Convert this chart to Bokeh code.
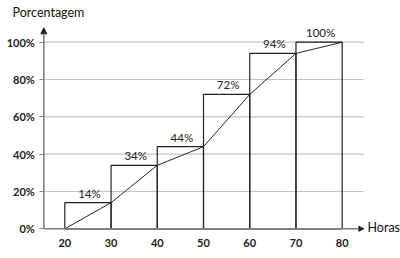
from bokeh.plotting import figure
from bokeh.models import Range1d, FixedTicker, PrintfTickFormatter, Arrow, NormalHead, Label, ColumnDataSource
from bokeh.core.properties import value
from bokeh.embed import file_html
from bokeh.resources import INLINE

# Data
class_edges = [20, 30, 40, 50, 60, 70, 80]
cum_pct = [14, 34, 44, 72, 94, 100]
pct_labels = ["14%", "34%", "44%", "72%", "94%", "100%"]
y_ticks = [0, 20, 40, 60, 80, 100]
x_ticks = [20, 30, 40, 50, 60, 70, 80]
y_title = "Porcentagem"
x_title = "Horas"

FONT = "Lato"

lefts = class_edges[:-1]
rights = class_edges[1:]
centers = [(a + b) / 2 for a, b in zip(lefts, rights)]
ogive_x = class_edges
ogive_y = [0] + cum_pct

# frame covers the whole canvas; axes placed at fixed locations inside
xr = Range1d(6.09, 92.61)
yr = Range1d(-15.92, 122.35)
X_AXIS_AT = 0
Y_AXIS_AT = 15.46
X_END = 84.67
Y_END = 107.7

p = figure(width=400, height=258, x_range=xr, y_range=yr,
           output_backend="svg", toolbar_location=None,
           min_border=0)
p.outline_line_color = None
p.background_fill_color = "white"
p.border_fill_color = "white"
p.xgrid.visible = False
p.ygrid.visible = False

# grid lines (bounded between the axis and the arrow tip)
grid_y = y_ticks[1:]
p.segment(x0=[Y_AXIS_AT] * len(grid_y), y0=grid_y, x1=[X_END] * len(grid_y), y1=grid_y,
          line_color="#c4c4c4", line_width=1.2)

# axes
p.yaxis.fixed_location = Y_AXIS_AT
p.yaxis.ticker = FixedTicker(ticks=y_ticks)
p.yaxis.formatter = PrintfTickFormatter(format="%d%%")
p.yaxis.major_tick_out = 4
p.yaxis.major_tick_in = 0
p.yaxis.minor_tick_line_color = None
p.yaxis.major_tick_line_color = "#7f7f7f"
p.yaxis.axis_line_color = None
p.yaxis.major_label_standoff = 5
p.yaxis.major_label_text_font = FONT
p.yaxis.major_label_text_font_size = "11px"
p.yaxis.major_label_text_font_style = "bold"
p.yaxis.major_label_text_color = "#222222"

p.xaxis.fixed_location = X_AXIS_AT
p.xaxis.ticker = FixedTicker(ticks=x_ticks)
p.xaxis.major_tick_out = 0
p.xaxis.major_tick_in = 0
p.xaxis.minor_tick_line_color = None
p.xaxis.axis_line_color = None
p.xaxis.major_label_standoff = 10
p.xaxis.major_label_text_font = FONT
p.xaxis.major_label_text_font_size = "11px"
p.xaxis.major_label_text_font_style = "bold"
p.xaxis.major_label_text_color = "#222222"

# bars (cumulative histogram)
p.quad(left=lefts, right=rights, bottom=0, top=cum_pct,
       fill_color=None, line_color="#222222", line_width=1.2)

# ogive
p.line(ogive_x, ogive_y, line_color="#111111", line_width=0.9)

# bar labels
src = ColumnDataSource(dict(x=centers, y=cum_pct, t=pct_labels))
p.text(x="x", y="y", text="t", source=src, text_align="center",
       text_baseline="bottom", y_offset=-3, x_offset=1.5,
       text_font=value(FONT), text_font_size="11.5px", text_color="#222222")

# axis arrows
p.add_layout(Arrow(end=NormalHead(size=6, fill_color="#222222", line_color="#222222"),
                   x_start=Y_AXIS_AT, y_start=X_AXIS_AT, x_end=Y_AXIS_AT, y_end=Y_END,
                   line_color="#7f7f7f", line_width=1.6))
p.add_layout(Arrow(end=NormalHead(size=5, fill_color="#222222", line_color="#222222"),
                   x_start=Y_AXIS_AT, y_start=X_AXIS_AT, x_end=X_END, y_end=X_AXIS_AT,
                   line_color="#7f7f7f", line_width=1.6))

# axis titles
p.add_layout(Label(x=12, y=246, x_units="screen", y_units="screen", text=y_title,
                   text_font=FONT, text_font_size="12.5px", text_baseline="middle",
                   text_color="#111111"))
p.add_layout(Label(x=367, y=31, x_units="screen", y_units="screen", text=x_title,
                   text_font=FONT, text_font_size="12.5px", text_baseline="middle",
                   text_color="#111111"))

open("out.html", "w").write(file_html(p, INLINE))
